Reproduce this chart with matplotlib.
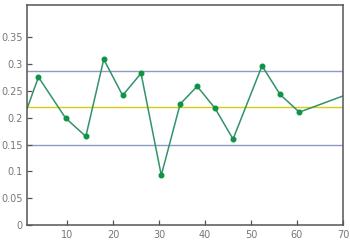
import matplotlib
matplotlib.use("Agg")
import matplotlib.pyplot as plt

# sample points (x, proportion)
x_vals = [1.3, 3.8, 9.7, 14.1, 18.0, 22.1, 26.1, 30.5, 34.6, 38.3, 42.2, 46.1, 52.4, 56.3, 60.5, 70.0]
p_vals = [0.216, 0.275, 0.199, 0.165, 0.308, 0.241, 0.282, 0.093, 0.225, 0.258, 0.217, 0.160, 0.296, 0.243, 0.210, 0.240]
marked = [False] + [True] * 14 + [False]

# control limits
ucl = 0.286
cl = 0.2195
lcl = 0.150

x_ticks = [10, 20, 30, 40, 50, 60, 70]
y_ticks = [0, 0.05, 0.1, 0.15, 0.2, 0.25, 0.3, 0.35]
y_labels = ["0", "0.05", "0.1", "0.15", "0.2", "0.25", "0.3", "0.35"]

fig = plt.figure(figsize=(3.5, 2.45), dpi=100)
ax = fig.add_axes([0.077, 0.080, 0.903, 0.898])

ax.axhline(ucl, color="#8c9cc0", lw=1.0, zorder=1)
ax.axhline(lcl, color="#8c9cc0", lw=1.0, zorder=1)
ax.axhline(cl, color="#d8cc10", lw=1.0, zorder=1)

ax.plot(x_vals, p_vals, color="#33926a", lw=1.1, zorder=2)
mx = [x for x, m in zip(x_vals, marked) if m]
my = [y for y, m in zip(p_vals, marked) if m]
ax.plot(mx, my, ls="none", marker="o", ms=3.3, color="#0e9444", zorder=3)

ax.set_xlim(1.3, 70)
ax.set_ylim(0, 0.408)
ax.set_xticks(x_ticks)
ax.set_yticks(y_ticks)
ax.set_yticklabels(y_labels)

for s in ax.spines.values():
    s.set_color("#555555")
    s.set_linewidth(1.1)

ax.tick_params(direction="in", length=3.5, width=0.9, color="#555555",
               labelcolor="#777777", labelsize=7, pad=3)

fig.savefig("out.png", dpi=100)
